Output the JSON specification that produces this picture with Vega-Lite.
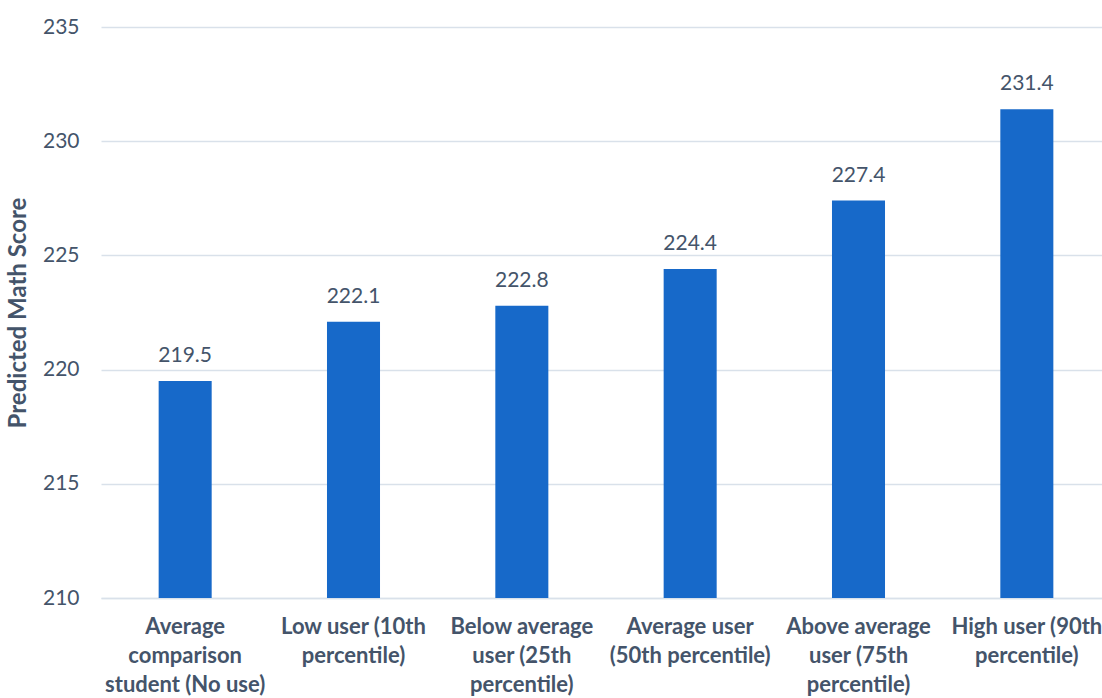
{
  "$schema": "https://vega.github.io/schema/vega-lite/v6.json",
  "width": 1010,
  "height": 571,
  "autosize": "none",
  "padding": {"left": 101, "top": 27, "right": 0, "bottom": 100},
  "background": "white",
  "config": {"view": {"stroke": null}, "font": "Lato"},
  "data": {"values": [
    {"category": "Average comparison student (No use)", "score": 219.5},
    {"category": "Low user (10th percentile)", "score": 222.1},
    {"category": "Below average user (25th percentile)", "score": 222.8},
    {"category": "Average user (50th percentile)", "score": 224.4},
    {"category": "Above average user (75th percentile)", "score": 227.4},
    {"category": "High user (90th percentile)", "score": 231.4}
  ]},
  "encoding": {
    "x": {"field": "category", "type": "nominal", "sort": null,
      "scale": {"paddingInner": 0.685, "paddingOuter": 0.3425},
      "axis": {"title": null, "labelAngle": 0, "ticks": false, "domain": true,
        "domainColor": "#D9E1EA", "domainWidth": 1.5,
        "labelFont": "Lato", "labelFontSize": 22, "labelFontWeight": "bold", "labelColor": "#44546A",
        "labelPadding": 18, "labelLineHeight": 29, "labelLimit": 220,
        "labelExpr": "datum.label == 'Average comparison student (No use)' ? ['Average','comparison','student (No use)'] : datum.label == 'Low user (10th percentile)' ? ['Low user (10th','percentile)'] : datum.label == 'Below average user (25th percentile)' ? ['Below average','user (25th','percentile)'] : datum.label == 'Average user (50th percentile)' ? ['Average user','(50th percentile)'] : datum.label == 'Above average user (75th percentile)' ? ['Above average','user (75th','percentile)'] : ['High user (90th','percentile)']"}},
    "y": {"field": "score", "type": "quantitative",
      "scale": {"domain": [210, 235], "zero": false, "nice": false},
      "axis": {"values": [210, 215, 220, 225, 230, 235], "title": "Predicted Math Score",
        "titleFont": "Lato", "titleFontSize": 24, "titleFontWeight": "bold", "titleColor": "#44546A",
        "titlePadding": 12,
        "domain": false, "ticks": false, "grid": true, "gridColor": "#D9E1EA", "gridWidth": 1.5,
        "labelFont": "Lato", "labelFontSize": 21, "labelColor": "#44546A", "labelPadding": 22}}
  },
  "layer": [
    {"mark": {"type": "bar", "color": "#1769C9", "clip": true}},
    {"mark": {"type": "text", "dy": -25, "fontSize": 21, "color": "#44546A", "font": "Lato"},
      "encoding": {"text": {"field": "score", "type": "quantitative", "format": ".1f"}}}
  ]
}
